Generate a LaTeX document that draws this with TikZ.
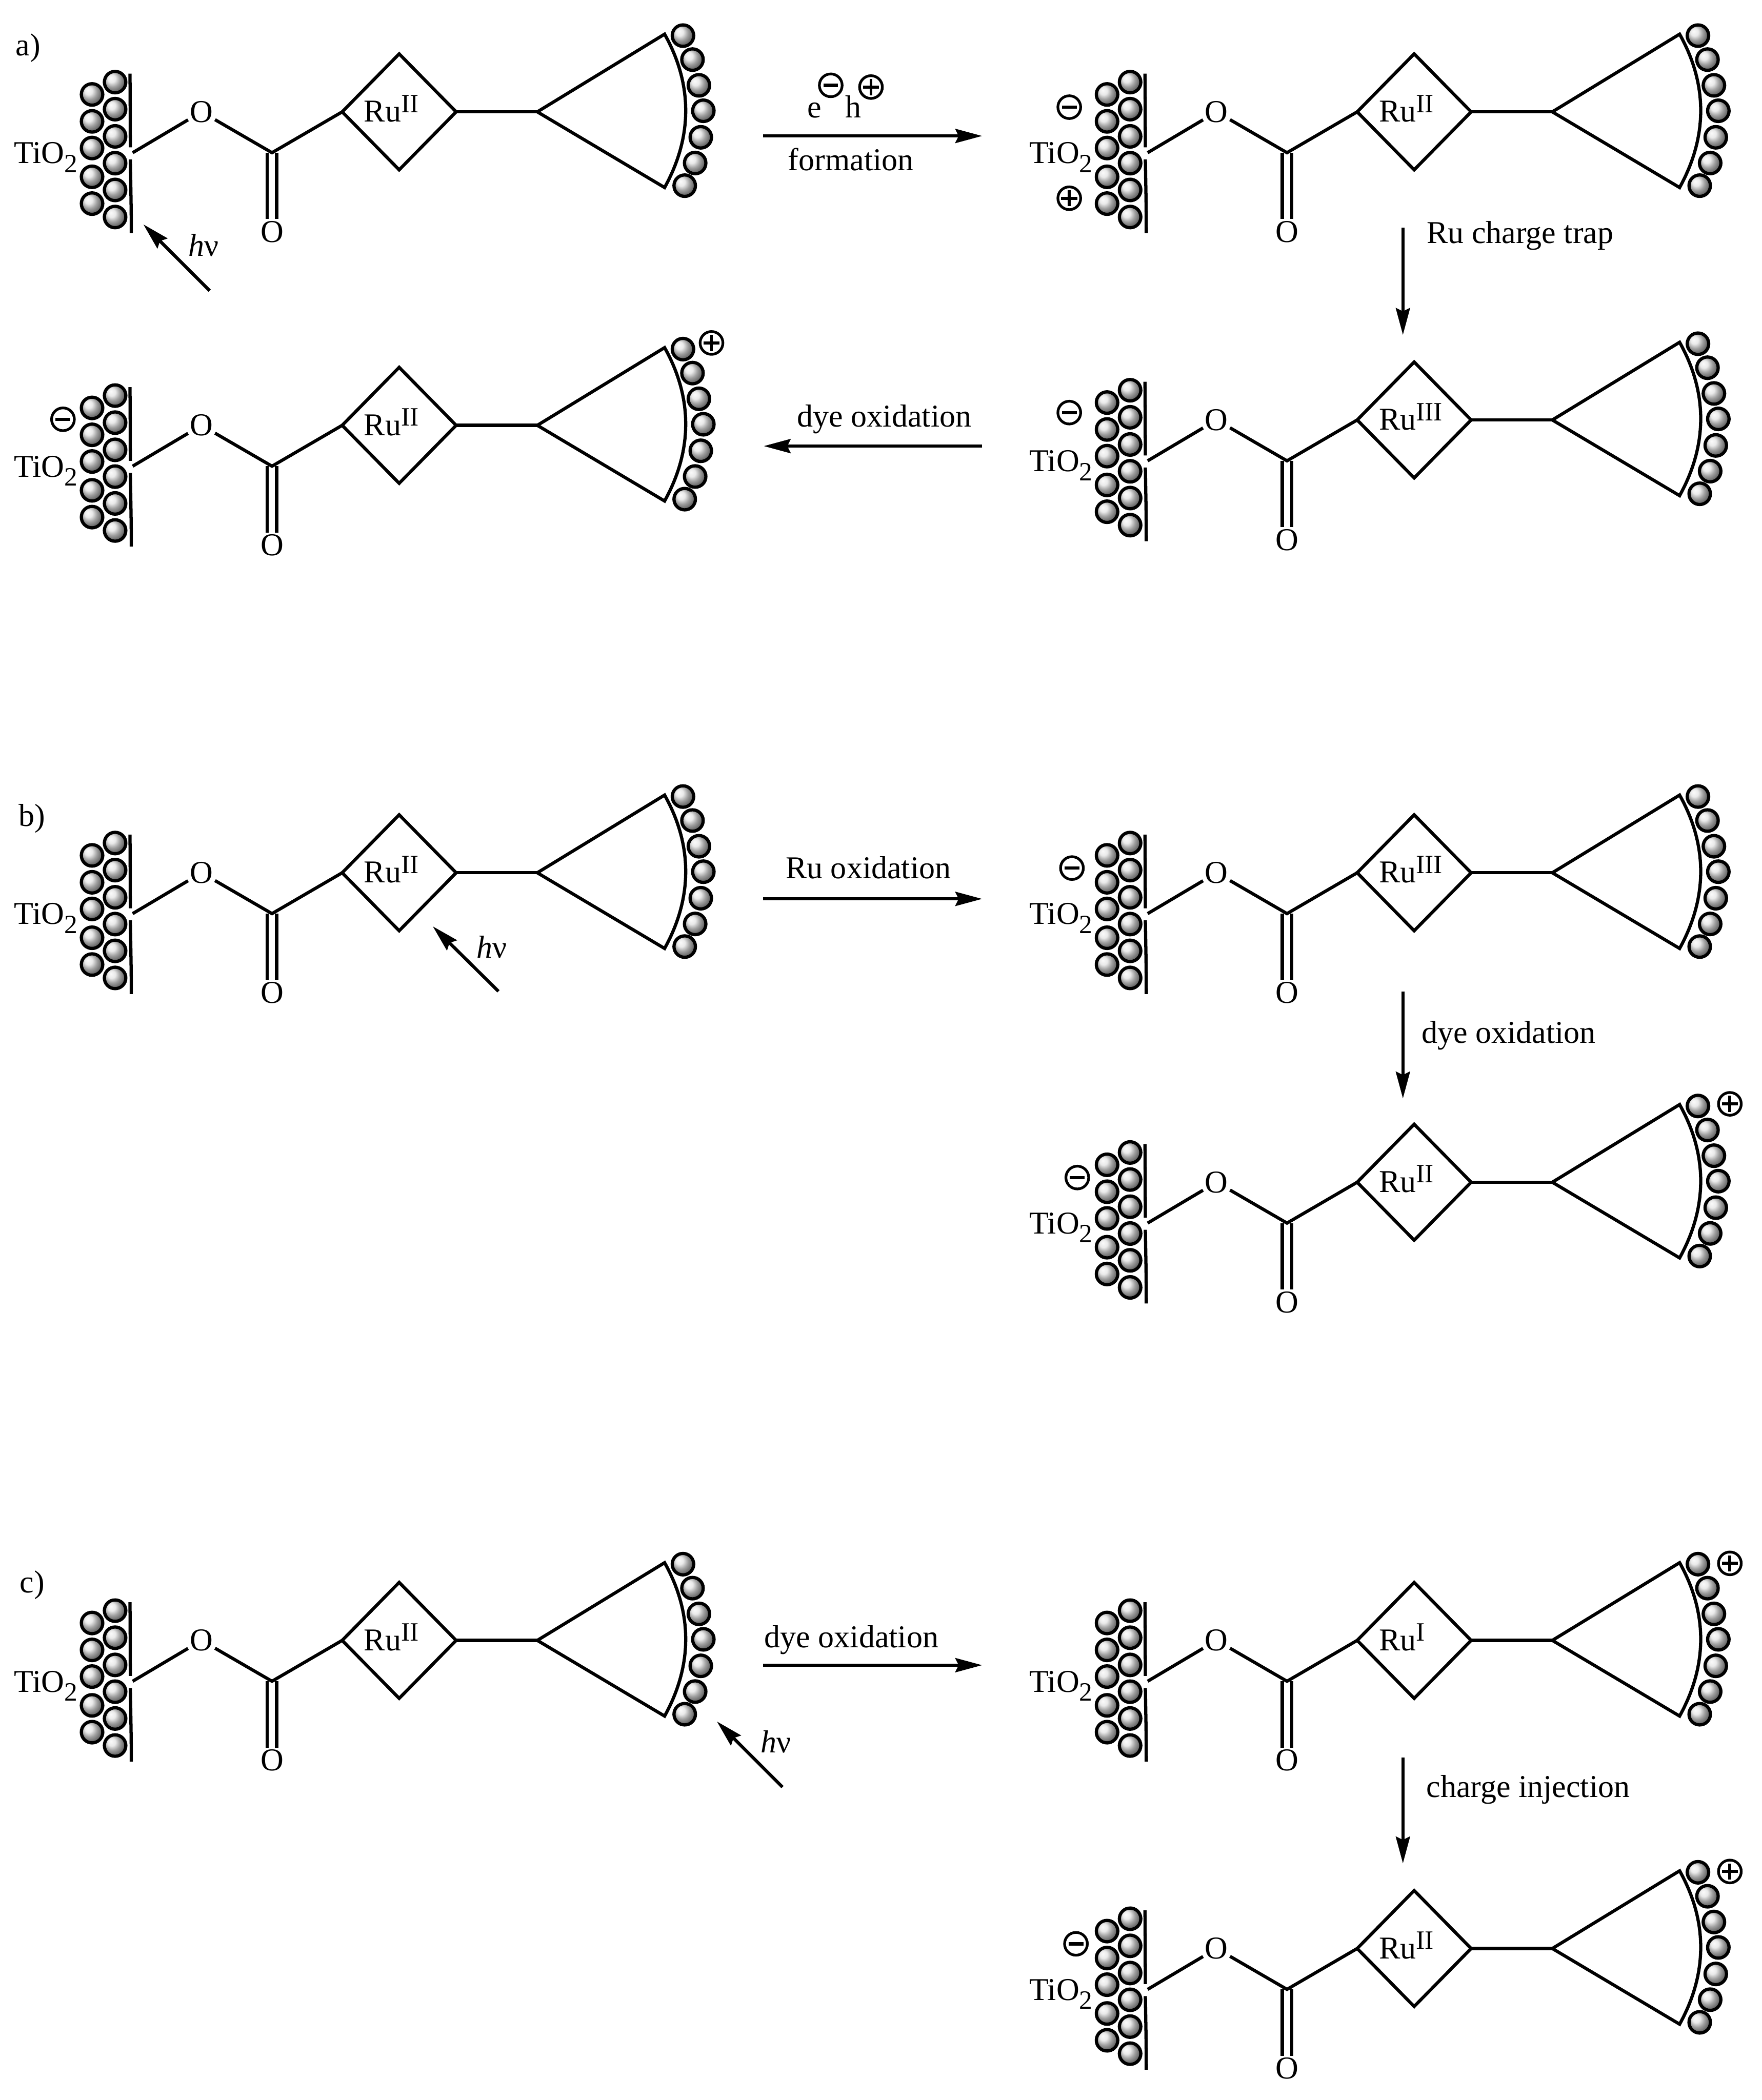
\documentclass[tikz,border=0pt]{standalone}
\usepackage{fontspec}
\setmainfont{Liberation Serif}
\usetikzlibrary{shapes.geometric, arrows.meta, positioning, calc}

\tikzset{
  ballnode/.style={circle, draw, inner sep=0pt, minimum size=0.16cm, shading=ball, ball color=gray!22},
  atom/.style={inner sep=0.015cm, outer sep=0pt},
  ruring/.style={diamond, draw, inner sep=0pt, outer sep=0pt, minimum width=0.85cm, minimum height=0.865cm},
  rxnarrow/.style={-{Stealth[length=0.2cm,width=0.105cm,inset=0.025cm]}},
  minuscirc/.style={circle, draw, line width=0.02cm, inner sep=0pt, minimum size=0.17cm, path picture={
    \draw[line width=0.025cm] ([xshift=-0.055cm]path picture bounding box.center) -- ([xshift=0.055cm]path picture bounding box.center);}},
  pluscirc/.style={circle, draw, line width=0.02cm, inner sep=0pt, minimum size=0.17cm, path picture={
    \draw[line width=0.022cm] ([xshift=-0.06cm]path picture bounding box.center) -- ([xshift=0.06cm]path picture bounding box.center);
    \draw[line width=0.022cm] ([yshift=-0.06cm]path picture bounding box.center) -- ([yshift=0.06cm]path picture bounding box.center);}},
}
\newcommand{\supr}[1]{\raisebox{0.3em}{\fontsize{5.6}{6}\selectfont #1}}
\newcommand{\subr}[1]{\raisebox{-0.28em}{\fontsize{5.6}{6}\selectfont #1}}

% #1 name, #2 #3 shift, #4 oxidation state of Ru
\newcommand{\dyemol}[4]{
\begin{scope}[shift={(#2,#3)}, name prefix=#1-]
\foreach \py [count=\i] in {70.5,90.6,110.5,132,152} \node[ballnode] (p\i) at (68.7,\py) {};
\foreach \py [count=\i] in {61.3,81.5,101.8,121.8,141.8,162} \node[ballnode] (q\i) at (85.9,\py) {};
\foreach \px/\py [count=\i] in {509.7/26.6,516.8/44.5,521.6/63.7,524.9/82.7,523/102.5,518.8/121.7,511/138.6} \node[ballnode] (d\i) at (\px,\py) {};
\draw (97,55) .. controls (97.2,75) and (97.2,95) .. (97.3,110);
\draw (97.3,119) .. controls (97.5,135) and (98,155) .. (98,174);
\node[anchor=base west, inner sep=0pt] (tio) at (9.5,122) {TiO\subr{2}};
\coordinate (wall) at (99,114);
\coordinate (carb) at (203,114);
\node[atom] (oe) at (150.4,83.5) {O};
\node[atom] (ok) at (203,173) {O};
\node[ruring] (ru) at (297.9,83.5) {};
\node[anchor=base west, inner sep=0pt] (rutxt) at (270.5,91) {Ru\supr{#4}};
\coordinate (apex) at (401,83.5);
\coordinate (tipa) at (496,25.5);
\coordinate (tipb) at (496,140);
\draw[double, double distance=0.046cm] (carb) -- (ok);
\draw (wall) -- (oe);
\draw[line join=miter] (oe) -- (carb) -- (ru.west);
\draw (ru.east) -- (apex);
\draw[line join=miter] (tipb) -- (apex) -- (tipa) .. controls (517,63) and (517,102) .. (tipb) -- cycle;
\end{scope}
}

\begin{document}
\begin{tikzpicture}[x=0.01cm, y=-0.01cm, line width=0.024cm, every node/.style={font=\fontsize{6.75}{8}\selectfont}]
\useasboundingbox (0,0) rectangle (1315,1567.6);

% a)
\node (laba) at (21,36) {a)};
\dyemol{aA}{0}{0}{II}
\dyemol{aB}{757.5}{0}{II}
\dyemol{aC}{757.5}{230}{III}
\dyemol{aD}{0}{234}{II}
\node[minuscirc] (aBm) at (798,80) {};
\node[pluscirc] (aBp) at (798,148) {};
\node[minuscirc] (aCm) at (798,308) {};
\node[minuscirc] (aDm) at (47,313) {};
\node[pluscirc] (aDp) at (531,256) {};

\coordinate (hva1) at (156.5,217);
\coordinate (hva2) at (107,167.5);
\draw[rxnarrow] (hva1) -- (hva2);
\node (hva) at (152,183) {\textit{h}ν};

\coordinate (ra1) at (569.5,101.5);
\coordinate (ra2) at (733,101.5);
\draw[rxnarrow] (ra1) -- (ra2);
\node[anchor=base] (ltE) at (608,88) {e};
\node[anchor=base] (ltH) at (637,88) {h};
\node[minuscirc] (ltEm) at (620,63.7) {};
\node[pluscirc] (ltHp) at (650,65) {};
\node (ltF) at (635,119) {formation};

\coordinate (rb1) at (1047,170);
\coordinate (rb2) at (1047,250);
\draw[rxnarrow] (rb1) -- (rb2);
\node (ltT) at (1134.5,176) {Ru charge trap};

\coordinate (rc1) at (733,333);
\coordinate (rc2) at (570,333);
\draw[rxnarrow] (rc1) -- (rc2);
\node (ltD) at (660,313) {dye oxidation};

% b)
\node (labb) at (24,611) {b)};
\dyemol{bA}{0}{568}{II}
\dyemol{bB}{757.5}{568}{III}
\dyemol{bC}{757.5}{799}{II}
\node[minuscirc] (bBm) at (800,648) {};
\node[minuscirc] (bCm) at (804,879) {};
\node[pluscirc] (bCp) at (1291,824) {};

\coordinate (hvb1) at (372,740);
\coordinate (hvb2) at (323,691.5);
\draw[rxnarrow] (hvb1) -- (hvb2);
\node (hvb) at (367,707) {\textit{h}ν};

\coordinate (rd1) at (569.5,671);
\coordinate (rd2) at (733,671);
\draw[rxnarrow] (rd1) -- (rd2);
\node (ltO) at (648,647.5) {Ru oxidation};

\coordinate (re1) at (1047,740);
\coordinate (re2) at (1047,820);
\draw[rxnarrow] (re1) -- (re2);
\node (ltP) at (1126,773) {dye oxidation};

% c)
\node (labc) at (24,1183) {c)};
\dyemol{cA}{0}{1141}{II}
\dyemol{cB}{757.5}{1141}{I}
\dyemol{cC}{757.5}{1371}{II}
\node[pluscirc] (cBp) at (1291,1167) {};
\node[minuscirc] (cCm) at (803,1451) {};
\node[pluscirc] (cCp) at (1291,1397) {};

\coordinate (hvc1) at (584,1334);
\coordinate (hvc2) at (535,1285);
\draw[rxnarrow] (hvc1) -- (hvc2);
\node (hvc) at (579,1300) {\textit{h}ν};

\coordinate (rf1) at (569.5,1243);
\coordinate (rf2) at (733,1243);
\draw[rxnarrow] (rf1) -- (rf2);
\node (ltQ) at (635.5,1224) {dye oxidation};

\coordinate (rg1) at (1047,1312);
\coordinate (rg2) at (1047,1391);
\draw[rxnarrow] (rg1) -- (rg2);
\node (ltI) at (1140.5,1336) {charge injection};
\end{tikzpicture}
\end{document}
